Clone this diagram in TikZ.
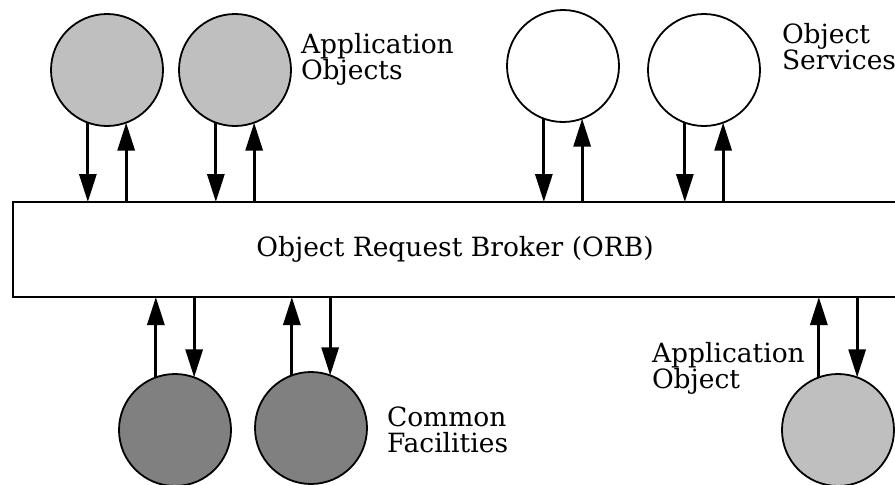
\documentclass[tikz,border=0pt]{standalone}
\usepackage{fontspec}
\setmainfont{DejaVu Serif}
\usetikzlibrary{arrows.meta}

\definecolor{appgray}{gray}{0.75}
\definecolor{facgray}{gray}{0.5}

\begin{document}
\begin{tikzpicture}[x=1pt,y=-1pt,inner sep=0pt,outer sep=0pt,
	obj/.style={circle,draw,line width=1.8pt,minimum size=112pt},
	lbl/.style={anchor=north west,align=left,font=\fontsize{26.5}{26}\selectfont}]
	\clip (0,0) rectangle (895,485);
	% the broker
	\node[draw,line width=1.8pt,minimum width=884pt,minimum height=95pt,
		font=\fontsize{26.5}{26}\selectfont] (orb) at (455,249.5) {Object Request Broker (ORB)};
	% objects above
	\node[obj,fill=appgray] (ao1) at (107,70) {};
	\node[obj,fill=appgray] (ao2) at (235,70) {};
	\node[obj,fill=white]   (os1) at (563,66) {};
	\node[obj,fill=white]   (os2) at (704,70) {};
	% objects below
	\node[obj,fill=facgray] (cf1) at (175,430) {};
	\node[obj,fill=facgray] (cf2) at (311,428) {};
	\node[obj,fill=appgray] (ao3) at (838,430) {};
	% labels
	\node[lbl] (lao) at (301,33) {Application\\Objects};
	\node[lbl] (los) at (782,23) {Object\\Services};
	\node[lbl] (lcf) at (387,407) {Common\\Facilities};
	\node[lbl] (lap) at (652,342) {Application\\Object};
	\begin{scope}[-{Triangle[length=28pt,width=17pt]},line width=3pt]
	\foreach \o in {ao1,ao2,os1,os2}{
		\draw (\o.250) -- (\o.250 |- orb.north) ;
		\draw (\o.290 |- orb.north) -- (\o.290) ;
	}
	\foreach \o in {cf1,cf2,ao3}{
		\draw (\o.110) -- (\o.110 |- orb.south) ;
		\draw (\o.70 |- orb.south) -- (\o.70) ;
	}
	\end{scope}
\end{tikzpicture}
\end{document}
